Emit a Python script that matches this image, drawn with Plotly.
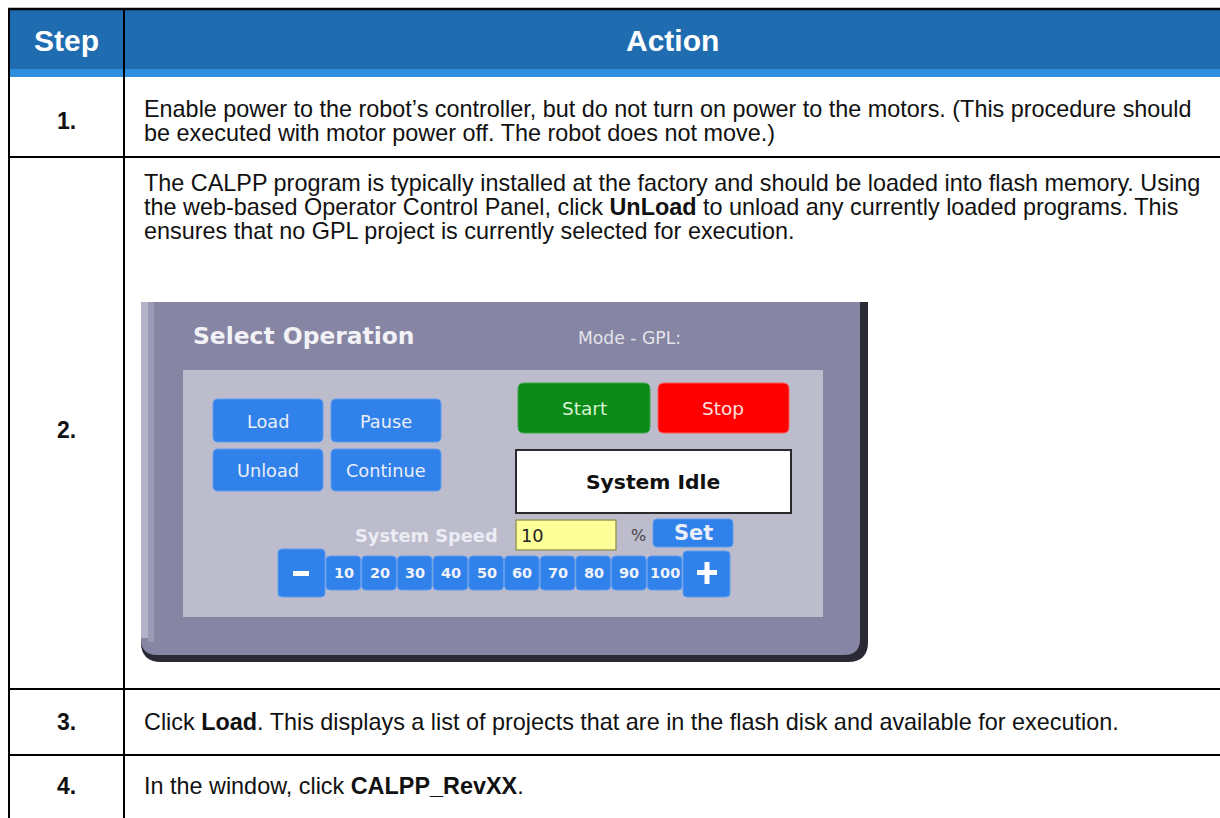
import plotly.graph_objects as go

# ---------------- data (text content) ----------------
header_labels = ["Step", "Action"]
step_labels = ["1.", "2.", "3.", "4."]
row1_lines = [
    "Enable power to the robot’s controller, but do not turn on power to the motors. (This procedure should",
    "be executed with motor power off. The robot does not move.)",
]
row2_lines = [
    "The CALPP program is typically installed at the factory and should be loaded into flash memory. Using",
    "the web-based Operator Control Panel, click <b>UnLoad</b> to unload any currently loaded programs. This",
    "ensures that no GPL project is currently selected for execution.",
]
row3_lines = ["Click <b>Load</b>. This displays a list of projects that are in the flash disk and available for execution."]
row4_lines = ["In the window, click <b>CALPP_RevXX</b>."]
action_texts = [row1_lines, row2_lines, row3_lines, row4_lines]

panel_title = "Select Operation"
mode_label = "Mode - GPL:"
left_buttons = ["Load", "Pause", "Unload", "Continue"]
start_label = "Start"
stop_label = "Stop"
status_label = "System Idle"
speed_label = "System Speed"
speed_value = "10"
speed_unit = "%"
set_label = "Set"
speed_steps = [10, 20, 30, 40, 50, 60, 70, 80, 90, 100]

# ---------------- layout constants ----------------
W, H = 1220, 818
TABLE_L, TABLE_T = 9, 9
COL_X = 124
HEAD_B, STRIPE_B = 69, 77
ROW_BOUNDS = [77, 157, 689, 755, 830]
TEXT_X = 142
FIRST_LINE_Y = [109, 183, 722, 786]
LINE_GAP = 24
STEP_CENTERS = [121, 430, 722, 786]

BODY_FONT = "Liberation Sans, Arial, sans-serif"
UI_FONT = "DejaVu Sans, Verdana, sans-serif"

shapes = []
annotations = []


def rect(x0, y0, x1, y1, fill, line_color=None, lw=0, layer="above"):
    shapes.append(dict(type="rect", x0=x0, y0=y0, x1=x1, y1=y1, xref="x", yref="y",
                       fillcolor=fill, layer=layer,
                       line=dict(color=line_color or fill, width=lw)))


def rrect(x0, y0, x1, y1, r, fill, line_color=None, lw=0, corners=(1, 1, 1, 1)):
    tl, tr, br, bl = [r if c else 0 for c in corners]
    p = (f"M {x0+tl},{y0} L {x1-tr},{y0} Q {x1},{y0} {x1},{y0+tr} "
         f"L {x1},{y1-br} Q {x1},{y1} {x1-br},{y1} L {x0+bl},{y1} Q {x0},{y1} {x0},{y1-bl} "
         f"L {x0},{y0+tl} Q {x0},{y0} {x0+tl},{y0} Z")
    shapes.append(dict(type="path", path=p, xref="x", yref="y", fillcolor=fill, layer="above",
                       line=dict(color=line_color or fill, width=lw)))


def line(x0, y0, x1, y1, color="#000000", w=2):
    shapes.append(dict(type="line", x0=x0, y0=y0, x1=x1, y1=y1, xref="x", yref="y",
                       layer="above", line=dict(color=color, width=w)))


def text(x, y, s, size, color="#000000", family=BODY_FONT, xanchor="center", align="center"):
    annotations.append(dict(x=x, y=y, xref="x", yref="y", text=s, showarrow=False,
                            xanchor=xanchor, yanchor="middle", align=align,
                            font=dict(size=size, color=color, family=family)))


# ---------------- table ----------------
rect(TABLE_L, TABLE_T, W, HEAD_B, "#1f6cb0")
rect(TABLE_L, HEAD_B, W, STRIPE_B, "#2e8fe0")
line(TABLE_L - 1, TABLE_T, W, TABLE_T, w=2.5)
line(TABLE_L, TABLE_T, TABLE_L, H, w=2)
line(COL_X, TABLE_T, COL_X, H, w=2)
for yb in ROW_BOUNDS[1:-1]:
    line(TABLE_L, yb, W, yb, w=2)

text((TABLE_L + COL_X) / 2, 40, f"<b>{header_labels[0]}</b>", 30, "#ffffff")
text((COL_X + W) / 2, 40, f"<b>{header_labels[1]}</b>", 30, "#ffffff")

for i, lab in enumerate(step_labels):
    text((TABLE_L + COL_X) / 2, STEP_CENTERS[i], f"<b>{lab}</b>", 23, "#111111")
    for j, ln in enumerate(action_texts[i]):
        text(TEXT_X, FIRST_LINE_Y[i] + j * LINE_GAP, ln, 23.4, "#111111",
             xanchor="left", align="left")

# ---------------- embedded panel screenshot ----------------
PX0, PY0, PX1, PY1 = 141, 302, 868, 662
rrect(PX0, PY0, PX1, PY1, 20, "#2a2935", corners=(0, 0, 1, 1))
rrect(PX0, PY0, PX1 - 8, PY1 - 7, 16, "#8685a3", corners=(0, 0, 1, 1))
rect(PX0, PY0, PX0 + 7, PY1 - 24, "#b4b3c8")
rect(PX0 + 7, PY0, PX0 + 13, PY1 - 20, "#9c9bb6")
rect(183, 370, 823, 617, "#bdbccc")

text(191, 336, f"<b>{panel_title}</b>", 23.4, "#f2f2f6", UI_FONT, xanchor="left")
text(576, 338, mode_label, 17.2, "#e4e4ec", UI_FONT, xanchor="left")

# left blue buttons (2 x 2 grid)
BTN_BLUE, BTN_EDGE, BTN_TXT = "#3181ea", "#5f9cf0", "#e9eef8"
grid_x = [(213, 323), (331, 441)]
grid_y = [(399, 442), (449, 491)]
for k, lab in enumerate(left_buttons):
    (bx0, bx1), (by0, by1) = grid_x[k % 2], grid_y[k // 2]
    rrect(bx0, by0, bx1, by1, 5, BTN_BLUE, BTN_EDGE, 1)
    text((bx0 + bx1) / 2, (by0 + by1) / 2 + 1, lab, 17.7, BTN_TXT, UI_FONT)

# start / stop
rrect(518, 383, 650, 433, 6, "#0b8a17", "#3aa847", 1)
text(584, 408, start_label, 18.5, "#d6f2d2", UI_FONT)
rrect(658, 383, 789, 433, 6, "#fe0000", "#ff5a5a", 1)
text(723, 408, stop_label, 18.5, "#ffe0e0", UI_FONT)

# status box
rect(516, 450, 791, 513, "#ffffff", "#2a2a2a", 2)
text(653, 482, f"<b>{status_label}</b>", 20.3, "#111111", UI_FONT)

# speed entry row
text(500, 535, f"<b>{speed_label}</b>", 17.8, "#ececf4", UI_FONT, xanchor="right")
rect(516, 520, 616, 550, "#ffff99", "#9a9a60", 1.5)
text(519, 535, speed_value, 17.8, "#222222", UI_FONT, xanchor="left")
text(638, 535, speed_unit, 16, "#444444", UI_FONT)
rrect(653, 519, 733, 547, 4, BTN_BLUE, BTN_EDGE, 1)
text(693, 533, f"<b>{set_label}</b>", 21, "#e9eef8", UI_FONT)

# minus / speed steps / plus
rrect(278, 549, 325, 597, 4, BTN_BLUE, BTN_EDGE, 1)
rect(293, 571, 309, 576, "#ffffff")
step_x0, step_w = 326, (683 - 326) / len(speed_steps)
for i, v in enumerate(speed_steps):
    sx0 = step_x0 + i * step_w
    rrect(sx0, 556, sx0 + step_w - 1, 590, 4, BTN_BLUE, BTN_EDGE, 1)
    text(sx0 + step_w / 2, 573, f"<b>{v}</b>", 14.5, "#eef2fa", UI_FONT)
rrect(683, 551, 730, 597, 4, BTN_BLUE, BTN_EDGE, 1)
rect(697, 570, 717, 575, "#ffffff")
rect(704.5, 562, 709.5, 584, "#ffffff")

# ---------------- figure ----------------
fig = go.Figure()
fig.add_trace(go.Scatter(x=[0], y=[0], mode="markers", marker=dict(opacity=0), hoverinfo="skip",
                         showlegend=False))
fig.update_layout(
    width=W, height=H,
    margin=dict(l=0, r=0, t=0, b=0),
    paper_bgcolor="#ffffff", plot_bgcolor="#ffffff",
    xaxis=dict(range=[0, W], visible=False, fixedrange=True),
    yaxis=dict(range=[H, 0], visible=False, fixedrange=True),
    shapes=shapes, annotations=annotations, showlegend=False,
)
fig.write_html("out.html", config={"displayModeBar": False},
               post_script="document.body.style.margin='0';document.body.style.overflow='hidden';")
